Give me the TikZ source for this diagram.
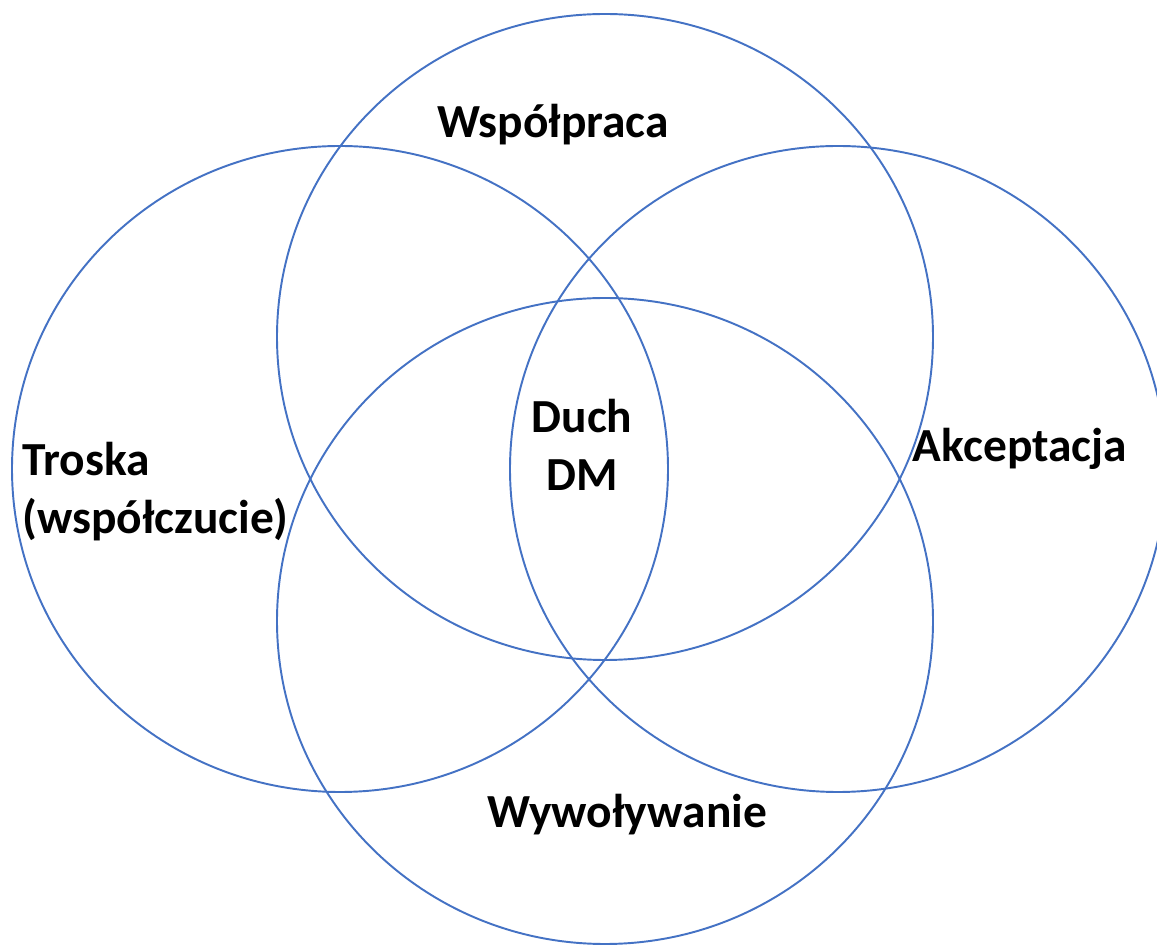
\documentclass[tikz,border=0pt]{standalone}
\usepackage{fontspec}
\setmainfont{Carlito}
\usepackage{xcolor}
\definecolor{vnblue}{RGB}{68,114,196}
\usepackage{tikz}
\usetikzlibrary{positioning}

\begin{document}
\begin{tikzpicture}[
    ring/.style={draw=vnblue, line width=1.1pt},
    lbl/.style={font=\fontsize{27}{33}\selectfont\bfseries, inner sep=0pt}]

\useasboundingbox (0,0) rectangle (23.14,-18.92);
\clip (0,0) rectangle (23.14,-18.92);

% === Circles ===
\draw[ring] (12.10,-6.74) ellipse (6.56cm and 6.46cm);   % top
\draw[ring] (6.80,-9.38) ellipse (6.56cm and 6.46cm);    % left
\draw[ring] (16.76,-9.38) ellipse (6.56cm and 6.46cm);   % right
\draw[ring] (12.10,-12.42) ellipse (6.56cm and 6.46cm);  % bottom

% === Labels ===
\node[lbl, anchor=base] (wsp) at (11.06,-2.76) {Współpraca};
\node[lbl, anchor=west, align=left] (tro) at (0.44,-9.84)
     {Troska\\(współczucie)};
\node[lbl, anchor=base] (akc) at (20.40,-9.24) {Akceptacja};
\node[lbl, align=center] (duch) at (11.64,-8.90) {Duch\\DM};
\node[lbl, anchor=base] (wyw) at (12.54,-16.56) {Wywoływanie};

\end{tikzpicture}
\end{document}
